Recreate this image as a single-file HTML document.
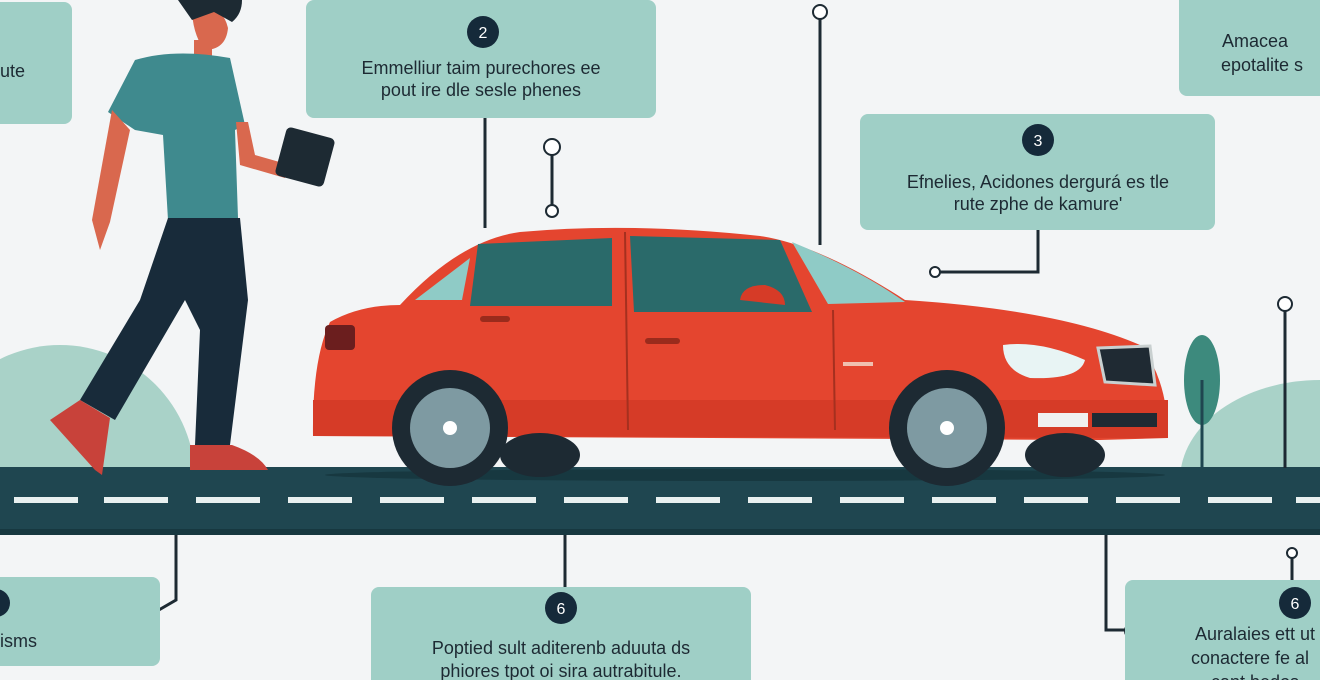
<!DOCTYPE html>
<html><head><meta charset="utf-8"><style>
html,body{margin:0;padding:0;background:#f3f5f6;}
svg{display:block}
text{font-family:"Liberation Sans",sans-serif;fill:#1d2a33}
</style></head><body>
<svg width="1320" height="680" viewBox="0 0 1320 680" xmlns="http://www.w3.org/2000/svg">
<defs><clipPath id="above"><rect x="0" y="0" width="1320" height="470"/></clipPath></defs>
<rect width="1320" height="680" fill="#f3f5f6"/>
<!-- hills -->
<g clip-path="url(#above)">
<ellipse cx="60" cy="480" rx="135" ry="135" fill="#a9d2c8"/>
<ellipse cx="1320" cy="480" rx="140" ry="100" fill="#a9d2c8"/>
</g>
<!-- tree -->
<ellipse cx="1202" cy="380" rx="18" ry="45" fill="#3d8a7d"/>
<line x1="1202" y1="380" x2="1202" y2="468" stroke="#1f4650" stroke-width="3"/>
<!-- road -->
<rect x="0" y="467" width="1320" height="68" fill="#1f4650"/>
<rect x="0" y="529" width="1320" height="6" fill="#173840"/>
<g fill="#e8f0f0">
<rect x="14" y="497" width="64" height="6"/><rect x="104" y="497" width="64" height="6"/><rect x="196" y="497" width="64" height="6"/><rect x="288" y="497" width="64" height="6"/><rect x="380" y="497" width="64" height="6"/><rect x="472" y="497" width="64" height="6"/><rect x="564" y="497" width="64" height="6"/><rect x="656" y="497" width="64" height="6"/><rect x="748" y="497" width="64" height="6"/><rect x="840" y="497" width="64" height="6"/><rect x="932" y="497" width="64" height="6"/><rect x="1024" y="497" width="64" height="6"/><rect x="1116" y="497" width="64" height="6"/><rect x="1208" y="497" width="64" height="6"/><rect x="1296" y="497" width="30" height="6"/>
</g>
<!-- connectors -->
<g stroke="#1d2a33" stroke-width="3" fill="none">
<line x1="485" y1="118" x2="485" y2="228"/>
<line x1="552" y1="150" x2="552" y2="210"/>
<line x1="820" y1="15" x2="820" y2="245"/>
<polyline points="1038,230 1038,272 935,272"/>
<line x1="1285" y1="305" x2="1285" y2="468"/>
<polyline points="176,535 176,600 145,618"/>
<line x1="565" y1="535" x2="565" y2="587"/>
<polyline points="1106,535 1106,630 1130,630"/>
<line x1="1292" y1="555" x2="1292" y2="580"/>
</g>
<g fill="#fff" stroke="#1d2a33" stroke-width="2">
<circle cx="552" cy="147" r="8"/><circle cx="552" cy="211" r="6"/><circle cx="820" cy="12" r="7"/><circle cx="935" cy="272" r="5"/><circle cx="1285" cy="304" r="7"/><circle cx="142" cy="619" r="8"/><circle cx="1133" cy="631" r="8"/><circle cx="1292" cy="553" r="5"/>
</g>
<!-- boxes -->
<g fill="#9fcfc6">
<rect x="-12" y="2" width="84" height="122" rx="8"/>
<rect x="306" y="0" width="350" height="118" rx="8"/>
<rect x="860" y="114" width="355" height="116" rx="8"/>
<rect x="1179" y="-10" width="160" height="106" rx="8"/>
<rect x="-12" y="577" width="172" height="89" rx="8"/>
<rect x="371" y="587" width="380" height="110" rx="8"/>
<rect x="1125" y="580" width="210" height="110" rx="8"/>
</g>
<g fill="#152a3a">
<circle cx="483" cy="32" r="16"/><circle cx="1038" cy="140" r="16"/><circle cx="561" cy="608" r="16"/><circle cx="1295" cy="603" r="16"/><circle cx="-4" cy="603" r="14"/>
</g>
<g font-size="16" text-anchor="middle">
<text x="483" y="38" style="fill:#fff">2</text>
<text x="1038" y="146" style="fill:#fff">3</text>
<text x="561" y="614" style="fill:#fff">6</text>
<text x="1295" y="609" style="fill:#fff">6</text>
</g>
<g font-size="18" text-anchor="middle">
<text x="481" y="74">Emmelliur taim purechores ee</text>
<text x="481" y="96">pout ire dle sesle phenes</text>
<text x="1038" y="188">Efnelies, Acidones dergurá es tle</text>
<text x="1038" y="210">rute zphe de kamure'</text>
<text x="561" y="654">Poptied sult aditerenb aduuta ds</text>
<text x="561" y="677">phiores tpot oi sira autrabitule.</text>
<text x="1255" y="47">Amacea</text>
<text x="1262" y="71">epotalite s</text>
<text x="1255" y="640">Auralaies ett ut</text>
<text x="1250" y="664">conactere fe al</text>
<text x="1255" y="688">cant bedos</text>
</g>
<text x="0" y="77" font-size="18">ute</text>
<text x="0" y="647" font-size="18">isms</text>
<!-- car -->
<g>
<ellipse cx="745" cy="475" rx="420" ry="6" fill="#173840"/>
<path d="M400,305 Q460,240 520,232 Q630,222 760,236 Q820,245 905,300 Q1060,310 1140,345 Q1168,380 1168,438 L1100,440 L313,436 Q312,360 330,322 Q360,305 400,305 Z" fill="#e4452f"/>
<path d="M313,400 L1168,400 L1168,438 L313,436 Z" fill="#d63b27"/>
<path d="M478,244 L612,238 L612,306 L470,306 Z" fill="#2a6a6a"/>
<path d="M630,236 L780,240 L812,312 L634,312 Z" fill="#2a6a6a"/>
<path d="M792,242 Q860,270 905,302 L828,304 Z" fill="#8fcbc6"/>
<path d="M415,300 L470,258 L462,300 Z" fill="#8fcbc6"/>
<line x1="625" y1="232" x2="628" y2="430" stroke="#a5301f" stroke-width="2"/>
<line x1="833" y1="310" x2="835" y2="430" stroke="#a5301f" stroke-width="2"/>
<path d="M740,300 Q742,285 765,285 Q785,290 785,305 Z" fill="#d63b27"/>
<rect x="325" y="325" width="30" height="25" rx="4" fill="#6b1e1e"/>
<path d="M1003,345 Q1040,340 1085,360 Q1080,380 1030,378 Q1003,370 1003,345 Z" fill="#e8f4f4"/>
<path d="M1098,348 L1150,346 L1155,385 L1105,382 Z" fill="#1f2a33" stroke="#c9d0d0" stroke-width="3"/>
<rect x="1038" y="413" width="50" height="14" fill="#f0f0f0"/>
<rect x="1092" y="413" width="65" height="14" fill="#1f2a33"/>
<rect x="843" y="362" width="30" height="4" fill="#f0c0b0"/>
<rect x="480" y="316" width="30" height="6" rx="3" fill="#9a2b1c"/>
<rect x="645" y="338" width="35" height="6" rx="3" fill="#9a2b1c"/>
<circle cx="450" cy="428" r="58" fill="#1d2a33"/>
<circle cx="450" cy="428" r="40" fill="#7e9aa2"/>
<circle cx="450" cy="428" r="7" fill="#fff"/>
<circle cx="947" cy="428" r="58" fill="#1d2a33"/>
<circle cx="947" cy="428" r="40" fill="#7e9aa2"/>
<circle cx="947" cy="428" r="7" fill="#fff"/>
<ellipse cx="540" cy="455" rx="40" ry="22" fill="#1d2a33"/>
<ellipse cx="1065" cy="455" rx="40" ry="22" fill="#1d2a33"/>
</g>
<!-- person -->
<g>
<path d="M192,8 Q222,2 228,28 Q226,50 204,50 Q192,32 192,8 Z" fill="#d9684e"/>
<path d="M178,0 L242,0 Q242,14 232,22 L214,12 L192,20 Z" fill="#1d2a33"/>
<rect x="194" y="40" width="18" height="20" fill="#d9684e"/>
<path d="M135,60 Q175,48 230,58 L245,125 L235,130 L238,218 L168,220 L163,135 L135,130 L108,112 Z" fill="#3f8a8e"/>
<path d="M112,110 L92,220 L100,250 L110,222 L130,130 Z" fill="#d9684e"/>
<path d="M236,122 L240,165 L285,178 L290,165 L255,155 L248,122 Z" fill="#d9684e"/>
<rect x="280" y="132" width="50" height="50" rx="5" transform="rotate(15 305 157)" fill="#1d2a33"/>
<path d="M168,218 L240,218 L248,300 L230,445 L195,445 L200,330 L185,300 L115,420 L80,400 L140,300 Z" fill="#182b3a"/>
<path d="M80,400 L110,418 L102,475 L95,470 L50,420 Z" fill="#c8423a"/>
<path d="M190,445 L232,445 Q260,455 268,470 L190,470 Z" fill="#c8423a"/>
</g>
</svg>
</body></html>
